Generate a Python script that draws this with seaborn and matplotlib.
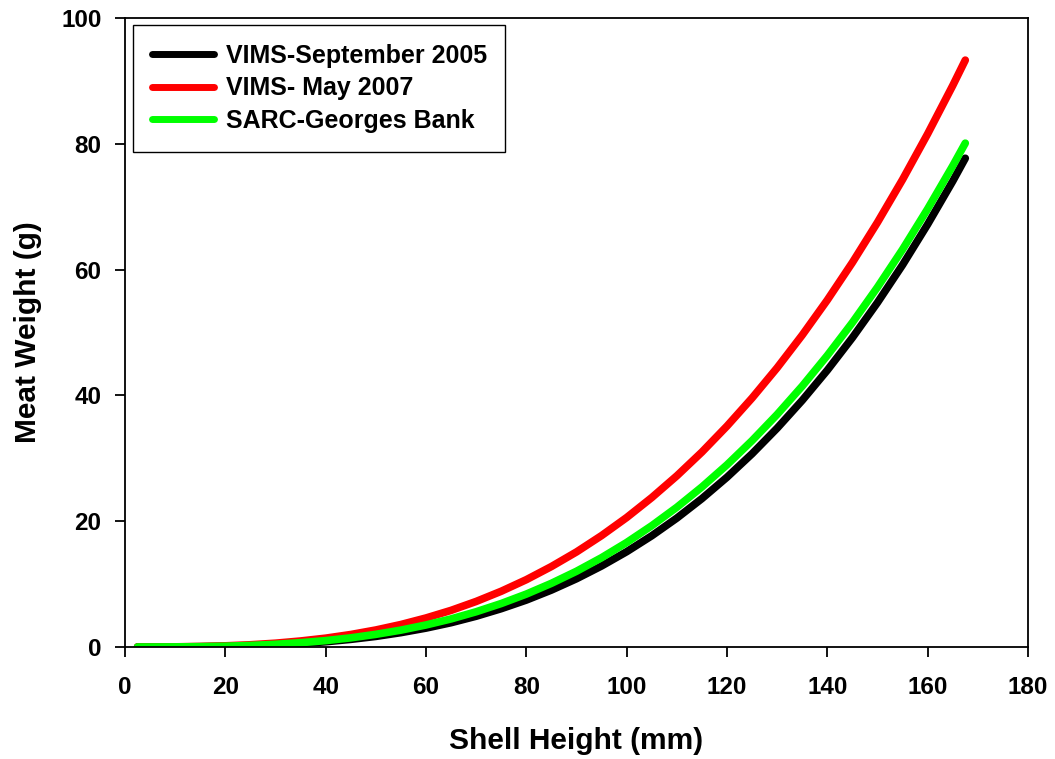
import matplotlib
matplotlib.use("Agg")
import matplotlib.pyplot as plt
import pandas as pd
import seaborn as sns


# shell height (mm) and meat weight (g)
shell_height = [2.5, 5, 10, 15, 20, 25, 30, 35, 40, 45, 50, 55, 60, 65, 70, 75, 80, 85,
                90, 95, 100, 105, 110, 115, 120, 125, 130, 135, 140, 145, 150, 155,
                160, 165, 167.5]
vims_sep_2005 = [0.0, 0.001, 0.01, 0.037, 0.09, 0.19, 0.33, 0.54, 0.83, 1.21, 1.68, 2.28,
                 3.00, 3.86, 4.89, 6.09, 7.46, 9.05, 10.85, 12.88, 15.15, 17.68, 20.49,
                 23.59, 26.99, 30.72, 34.79, 39.21, 44.0, 49.18, 54.76, 60.75, 67.2,
                 74.06, 77.7]
vims_may_2007 = [0.0, 0.003, 0.02, 0.079, 0.18, 0.35, 0.60, 0.95, 1.40, 1.98, 2.70, 3.57,
                 4.61, 5.82, 7.24, 8.86, 10.70, 12.79, 15.11, 17.71, 20.58, 23.75, 27.21,
                 30.99, 35.12, 39.58, 44.39, 49.59, 55.16, 61.13, 67.51, 74.32, 81.58,
                 89.26, 93.3]
sarc_georges = [0.0, 0.002, 0.015, 0.051, 0.12, 0.24, 0.42, 0.68, 1.01, 1.45, 2.01, 2.68,
                3.50, 4.46, 5.60, 6.91, 8.41, 10.12, 12.04, 14.20, 16.61, 19.28, 22.21,
                25.44, 28.96, 32.81, 36.97, 41.48, 46.35, 51.58, 57.20, 63.21, 69.65,
                76.50, 80.1]

series_names = ["VIMS-September 2005", "VIMS- May 2007", "SARC-Georges Bank"]
series_colors = ["#000000", "#ff0000", "#00ff00"]

x_ticks = [0, 20, 40, 60, 80, 100, 120, 140, 160, 180]
y_ticks = [0, 20, 40, 60, 80, 100]

frames = []
for name, vals in zip(series_names, [vims_sep_2005, vims_may_2007, sarc_georges]):
    frames.append(pd.DataFrame({"height": shell_height, "weight": vals, "series": name}))
df = pd.concat(frames, ignore_index=True)

sns.set_style("ticks")
plt.rcParams["font.family"] = ["Liberation Sans", "DejaVu Sans"]
plt.rcParams["font.weight"] = "bold"
plt.rcParams["text.color"] = "black"
plt.rcParams["axes.labelcolor"] = "black"
plt.rcParams["xtick.color"] = "black"
plt.rcParams["ytick.color"] = "black"

fig = plt.figure(figsize=(10.55, 7.59), dpi=100)
ax = fig.add_axes([0.1185, 0.1476, 0.8559, 0.8287])

sns.lineplot(data=df, x="height", y="weight", hue="series", hue_order=series_names,
             palette=series_colors, linewidth=5.5, ax=ax,
             solid_capstyle="round", solid_joinstyle="round")

ax.set_xlim(0, 180)
ax.set_ylim(0, 100)
ax.set_xticks(x_ticks)
ax.set_yticks(y_ticks)
ax.tick_params(direction="out", length=7, width=1.3, labelsize=17.5,
               colors="black")
ax.tick_params(axis="x", pad=14)
ax.tick_params(axis="y", pad=10)
for lbl in ax.get_xticklabels() + ax.get_yticklabels():
    lbl.set_fontweight("bold")
for s in ax.spines.values():
    s.set_visible(True)
    s.set_linewidth(1.3)
    s.set_color("black")

ax.set_xlabel("Shell Height (mm)", fontsize=21.5, fontweight="bold", labelpad=20)
ax.set_ylabel("Meat Weight (g)", fontsize=21.5, fontweight="bold", labelpad=14)

leg = ax.legend(loc="upper left", bbox_to_anchor=(0.0089, 0.989), borderaxespad=0,
                fontsize=18, frameon=True, fancybox=False, edgecolor="black",
                handlelength=2.5, borderpad=0.75, labelspacing=0.35, handletextpad=0.45,
                framealpha=1)
leg.get_frame().set_linewidth(1.0)
for line in leg.get_lines():
    line.set_linewidth(5)
    line.set_solid_capstyle("round")
for t in leg.get_texts():
    t.set_fontweight("bold")

fig.savefig("out.png", dpi=100)
